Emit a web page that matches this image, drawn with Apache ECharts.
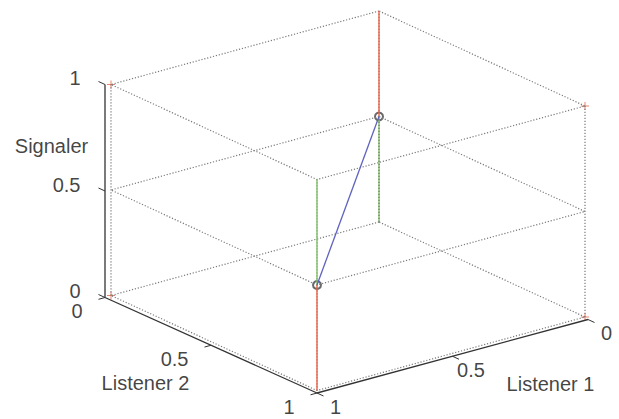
<!DOCTYPE html>
<html><head><meta charset="utf-8">
<script src="https://cdn.jsdelivr.net/npm/echarts@6/dist/echarts.min.js"></script>
<style>html,body{margin:0;padding:0;background:#fff}#c{width:619px;height:419px}</style>
</head><body><div id="c"></div>
<script>
// ---------------- data (points are [Listener 1, Listener 2, Signaler]) ----------------
const tickValues = [0, 0.5, 1];
const tickLabels = ['0', '0.5', '1'];
const titleListener1 = 'Listener 1';
const titleListener2 = 'Listener 2';
const titleSignaler = 'Signaler';
const bluePath = [[1, 1, 0.5], [0, 0, 0.5]];
const redSegments = [[[0, 0, 0.5], [0, 0, 1]], [[1, 1, 0], [1, 1, 0.5]]];
const greenSegments = [[[1, 1, 0.5], [1, 1, 1]], [[0, 0, 0], [0, 0, 0.5]]];
const circlePoints = [[1, 1, 0.5], [0, 0, 0.5]];
const cornerMarks = [[1, 0, 1], [1, 0, 0], [0, 1, 1], [0, 1, 0]];
const ringLevels = [0, 0.5, 1];
const boxCorners = [[0, 0], [1, 0], [1, 1], [0, 1]];

// ---------------- view (orthographic projection onto the page) ----------------
const VIEW = { ox: 379, oy: 222, ax: -268, ay: 73.5, bx: 206, by: 95, cz: -211 };
function P(p) {
  return [VIEW.ox + p[0] * VIEW.ax + p[1] * VIEW.bx,
          VIEW.oy + p[0] * VIEW.ay + p[1] * VIEW.by + p[2] * VIEW.cz];
}
function add(a, b) { return [a[0] + b[0], a[1] + b[1]]; }
function lerp(a, b, t) { return [a[0] + (b[0] - a[0]) * t, a[1] + (b[1] - a[1]) * t]; }

const FONT = 'Liberation Sans, Arial, Helvetica, sans-serif';
const GRID_COLOR = '#7a7a7a';
const DOT = [1.2, 1.8];
const RED = '#ea6446', GREEN = '#84c466', BLUE = '#5f63bd', AXIS = '#333333';

const series = [];
function line(pts, color, width, type) {
  series.push({ type: 'line', data: pts, symbol: 'none', silent: true, animation: false,
    lineStyle: { color: color, width: width, type: type || 'solid' } });
}

// dotted rings of the box
ringLevels.forEach(z => {
  const pts = boxCorners.concat([boxCorners[0]]).map(c => P([c[0], c[1], z]));
  line(pts, GRID_COLOR, 1.2, DOT);
});
// dotted vertical edges
boxCorners.forEach(c => line([P([c[0], c[1], 0]), P([c[0], c[1], 1])], GRID_COLOR, 1.2, DOT));

// coloured segments
redSegments.forEach(s => line(s.map(P), RED, 1.4));
greenSegments.forEach(s => line(s.map(P), GREEN, 1.4));
// back green edge shows the dotted grid on top
line(greenSegments[1].map(P), GRID_COLOR, 1, DOT);
line(bluePath.map(P), BLUE, 1.3);

// solid axis lines (drawn just outside the box)
const zAxisA = add(P([1, 0, 0]), [-6, 2]), zAxisB = add(P([1, 0, 1]), [-6, 0]);
const l2A = zAxisA, l2B = add(P([1, 1, 0]), [0, 2.5]);
const l1A = l2B, l1B = add(P([0, 1, 0]), [3, 2.5]);
line([zAxisB, zAxisA], AXIS, 1.3);
line([l2A, l2B], AXIS, 1.3);
line([l1A, l1B], AXIS, 1.3);

// tick marks (directions along the other box axes)
const tz = [-6.5, -3], tl2 = [-6.5, 1.8], tl1 = [6.5, 3];
const zTickPts = tickValues.map(v => lerp(zAxisA, zAxisB, v));
const l2TickPts = tickValues.map(v => lerp(l2A, l2B, v));
const l1TickPts = tickValues.map(v => lerp(l1B, l1A, v));
zTickPts.forEach(p => line([p, add(p, tz)], AXIS, 1));
l2TickPts.forEach(p => line([p, add(p, tl2)], AXIS, 1));
l1TickPts.forEach(p => line([p, add(p, tl1)], AXIS, 1));

// circles and corner crosses
series.push({ type: 'scatter', data: circlePoints.map(P), symbol: 'emptyCircle', symbolSize: 8,
  animation: false, silent: true, itemStyle: { color: '#444', borderColor: '#444', borderWidth: 1.2 } });
series.push({ type: 'scatter', data: cornerMarks.map(P), symbol: 'path://M0,5L10,5M5,0L5,10',
  symbolSize: 8, animation: false, silent: true,
  itemStyle: { color: 'none', borderColor: RED, borderWidth: 1 } });

// text
function textAt(pts, texts, align, off) {
  series.push({ type: 'scatter', symbolSize: 1, animation: false, silent: true,
    itemStyle: { color: 'rgba(0,0,0,0)' },
    data: pts.map((p, i) => ({ value: p, name: texts[i] })),
    label: { show: true, formatter: '{b}', position: off, align: align, verticalAlign: 'middle',
      color: '#111', fontSize: 20, lineHeight: 20, fontFamily: FONT } });
}
textAt(zTickPts, tickLabels, 'right', [-24, -6]);
textAt(l2TickPts, tickLabels, 'right', [-22, 14]);
textAt(l1TickPts, tickLabels, 'center', [19, 14]);
textAt([P([1, 0, 0.75])], [titleSignaler], 'center', [-59, 9]);
textAt([P([1, 0.5, 0])], [titleListener2], 'center', [-68, 40]);
textAt([P([0.5, 1, 0])], [titleListener1], 'center', [100, 31]);

const chart = echarts.init(document.getElementById('c'), null, { renderer: 'svg' });
chart.setOption({
  animation: false,
  backgroundColor: '#fff',
  grid: { left: 0, right: 0, top: 0, bottom: 0 },
  xAxis: { type: 'value', min: 0, max: 619, show: false },
  yAxis: { type: 'value', min: 0, max: 419, inverse: true, show: false },
  series: series
});
</script></body></html>
